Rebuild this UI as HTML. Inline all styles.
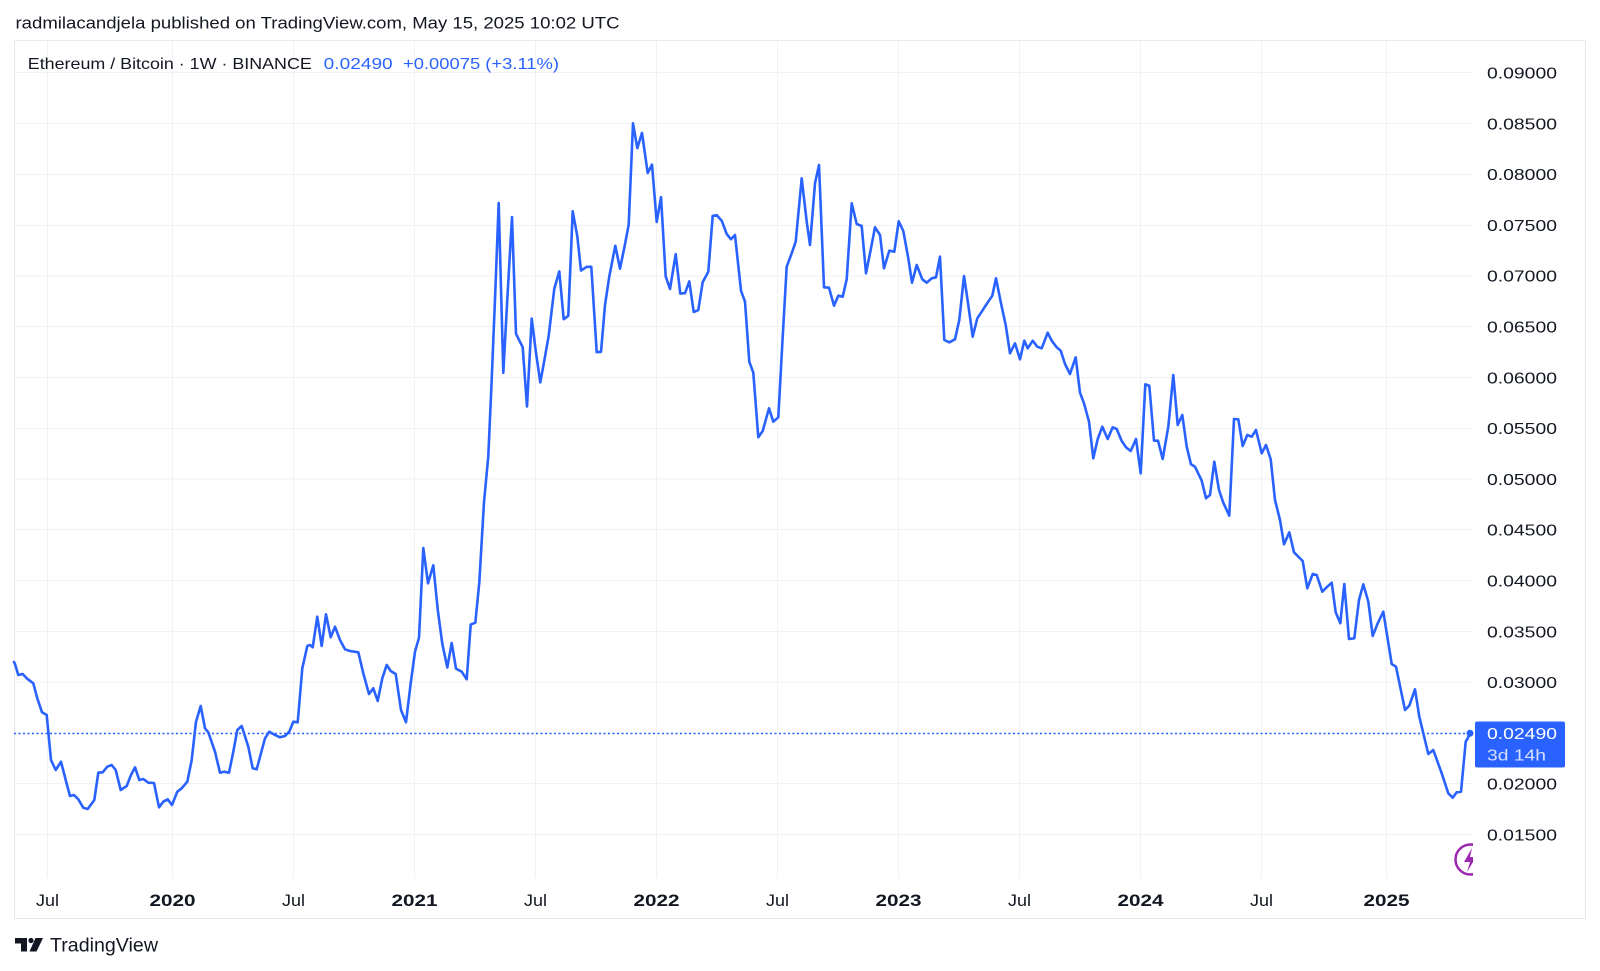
<!DOCTYPE html>
<html><head><meta charset="utf-8"><style>
html,body{margin:0;padding:0;background:#fff;}
svg{display:block;}
text{font-family:"Liberation Sans",sans-serif;}
</style></head><body>
<svg width="1600" height="971" viewBox="0 0 1600 971" xmlns="http://www.w3.org/2000/svg">
<rect width="1600" height="971" fill="#fff"/>
<defs><clipPath id="plot"><rect x="14" y="40" width="1459" height="838"/></clipPath></defs>
<text x="15.5" y="28.5" font-size="17" fill="#131722" textLength="604" lengthAdjust="spacingAndGlyphs">radmilacandjela published on TradingView.com, May 15, 2025 10:02 UTC</text>
<rect x="14.5" y="40.5" width="1571" height="878" fill="none" stroke="#e6e9ef" stroke-width="1"/>
<g stroke="#f0f2f6" stroke-width="1">
<line x1="14" x2="1473" y1="72.5" y2="72.5"/><line x1="14" x2="1473" y1="123.5" y2="123.5"/><line x1="14" x2="1473" y1="174.5" y2="174.5"/><line x1="14" x2="1473" y1="225.5" y2="225.5"/><line x1="14" x2="1473" y1="276" y2="276"/><line x1="14" x2="1473" y1="326.5" y2="326.5"/><line x1="14" x2="1473" y1="377.5" y2="377.5"/><line x1="14" x2="1473" y1="428.5" y2="428.5"/><line x1="14" x2="1473" y1="479" y2="479"/><line x1="14" x2="1473" y1="529.5" y2="529.5"/><line x1="14" x2="1473" y1="580.5" y2="580.5"/><line x1="14" x2="1473" y1="631.5" y2="631.5"/><line x1="14" x2="1473" y1="682" y2="682"/><line x1="14" x2="1473" y1="733" y2="733"/><line x1="14" x2="1473" y1="783.5" y2="783.5"/><line x1="14" x2="1473" y1="834.5" y2="834.5"/>
<line x1="47.5" x2="47.5" y1="40" y2="878"/><line x1="172.5" x2="172.5" y1="40" y2="878"/><line x1="293.5" x2="293.5" y1="40" y2="878"/><line x1="414.5" x2="414.5" y1="40" y2="878"/><line x1="535.5" x2="535.5" y1="40" y2="878"/><line x1="656.5" x2="656.5" y1="40" y2="878"/><line x1="777.5" x2="777.5" y1="40" y2="878"/><line x1="898.5" x2="898.5" y1="40" y2="878"/><line x1="1019.5" x2="1019.5" y1="40" y2="878"/><line x1="1140.5" x2="1140.5" y1="40" y2="878"/><line x1="1261.5" x2="1261.5" y1="40" y2="878"/><line x1="1386.5" x2="1386.5" y1="40" y2="878"/>
</g>
<text x="27.8" y="69" font-size="16" fill="#131722" textLength="284" lengthAdjust="spacingAndGlyphs">Ethereum / Bitcoin · 1W · BINANCE</text>
<text x="323.7" y="69" font-size="16" fill="#2962ff" textLength="69" lengthAdjust="spacingAndGlyphs">0.02490</text>
<text x="403" y="69" font-size="16" fill="#2962ff" textLength="156" lengthAdjust="spacingAndGlyphs">+0.00075 (+3.11%)</text>
<line x1="14" x2="1473" y1="733.5" y2="733.5" stroke="#2962ff" stroke-width="1.5" stroke-dasharray="2 2.5"/>
<g clip-path="url(#plot)">
<circle cx="1470.5" cy="859.5" r="15" fill="none" stroke="#9c27b0" stroke-width="2.5"/>
<path d="M1472,848 L1464,862 L1470,862 L1467,872 L1476,857 L1470,857 Z" fill="#9c27b0"/>
</g>
<path fill="none" stroke="#2962ff" stroke-width="2.6" stroke-linejoin="round" stroke-linecap="round" d="M14,662 L15,664 L18.3,675 L22.7,674 L26.7,678.3 L33.3,683.3 L37.3,698.3 L42,712.3 L46.7,715 L51,760 L55.7,770 L61,761.7 L65.7,780 L70,796 L74,795 L78.3,799.3 L83.3,807.7 L87.7,809 L94.3,800 L98.3,772.7 L102.7,772.3 L107.3,766.7 L111.7,765 L115.7,770 L120.7,790 L126.7,786 L131,775 L135,767.3 L139.3,780 L143.3,779 L148.3,782.7 L154,783 L159,807.3 L163.3,801.7 L167.7,799.3 L172,805 L177.3,791.7 L181.7,788.3 L187.3,781.7 L191.7,760 L196,721.7 L200.7,706 L205,728.3 L208.3,732.3 L215,751.7 L220,772.7 L224,771.7 L229,772.7 L233.3,751.7 L237.3,730 L241.7,726 L248.3,746.7 L252.7,768.3 L256.7,769.3 L265,738.3 L269.3,731.7 L275,735 L280,737.3 L285,736 L289.3,731.7 L293.3,721.7 L297.7,722.3 L302.3,668.3 L307.3,646 L310,645 L312.7,647.3 L317.3,616.7 L321.7,646 L326,614.3 L330.7,637.3 L335,626.7 L340,640 L345,649.3 L350,651 L358.3,652.3 L363.3,673.3 L369,694 L373.3,688.3 L377.7,701 L382.3,678.3 L386.7,665 L390.7,671 L395.7,674 L401,710 L406,722.3 L410.7,683.3 L415,651.7 L419,637.7 L423.3,548.1 L428,583.3 L433.3,565.3 L437.7,609.3 L442.3,643.8 L447.3,667.5 L451.7,643 L456,668.6 L461.7,671.7 L466.7,679.3 L470.7,624.6 L475.3,622.7 L479.3,582.5 L484,502.2 L488.3,456.2 L491.7,379.7 L495,299.3 L498.7,202.9 L503.3,372.8 L507.3,299.3 L512,217.1 L516,333.8 L522.7,347.2 L527,406.5 L531.7,318.5 L536,352.9 L540.3,382.4 L544.3,360.6 L548.7,335.7 L554.3,288.6 L559.3,271.4 L563.7,319.2 L568.3,315.8 L572.7,211.3 L577.3,236.2 L581,270.6 L586.7,266.8 L591.3,266.8 L596.7,352.2 L601,351.8 L605,305.1 L609.3,276.4 L615.3,245.8 L620,268.7 L624.3,247.7 L628.7,224.7 L633,123.3 L637.3,148.2 L642,132.9 L647.7,173.1 L652,164.6 L656.7,222 L661,197.2 L665.7,276.4 L670,289 L675.7,254.2 L680.3,293.6 L685,293.2 L689.3,281.4 L693.7,312 L698.3,310.1 L702.7,282.1 L708.3,271.8 L712.7,215.9 L716.7,215.1 L721.7,220.7 L726.7,234 L731,239.3 L735,235 L741,290.7 L745,301.7 L749.3,361.7 L753.3,372.7 L758.3,437.3 L762.7,431 L769,408.3 L773.3,421.7 L778.3,417.3 L782.7,336.7 L786.7,266.7 L791.7,253.3 L795.7,241.7 L801.7,178.3 L806.7,221.7 L810,245 L815,183.3 L819,165 L824,287.3 L829,287.7 L834,305.7 L838.3,295.7 L842.7,296.7 L846.7,279.3 L851.7,203.3 L856.7,224 L861.7,226 L866,273.3 L871,248.3 L875,227.3 L880,235 L884,268.3 L889.3,250.7 L894.3,251.7 L898.7,221.3 L903.3,231 L908.3,258.3 L912,282.7 L916.7,265 L922.3,279.3 L926.7,282.7 L931.7,278.3 L936,277.3 L940,256.7 L944.3,340 L949.3,342.3 L955,339.3 L959.3,320 L964,276 L968.3,305 L972.7,336.7 L977.3,318.3 L981.7,311.7 L986,305 L992.3,295.7 L996,278.3 L1001,303.3 L1005.7,325 L1010,353.3 L1015,343.3 L1020,359.3 L1024.3,340.7 L1027.7,348.3 L1032.7,340.7 L1037.3,346.7 L1041.7,348.3 L1047.7,332.7 L1051.7,340.7 L1056.7,347.3 L1060.7,350.7 L1065,364 L1070,374 L1075.7,357.3 L1080,392.7 L1084,403.3 L1089,421.7 L1093.3,458.3 L1097.7,439 L1102.3,426.7 L1107.7,439 L1112.7,427.3 L1116.7,429 L1121.7,441 L1126,447.3 L1130.7,451 L1136,439 L1140.7,473.3 L1145.3,384.3 L1149.3,385.7 L1154,440.7 L1158,440.7 L1162.7,459 L1168.3,426.7 L1173.3,375 L1177.7,425 L1182.3,415 L1186.7,446.7 L1191,464.3 L1195,466.7 L1201.7,480.7 L1206,498.3 L1210,495 L1214.3,461.7 L1219,490 L1223.3,502.7 L1229.3,515.7 L1234,419 L1238.3,419.3 L1242.7,446 L1247.3,435 L1251.7,436.7 L1256,430 L1261.7,453.3 L1266,445 L1270.7,459.3 L1275,500 L1280,520 L1284,544.3 L1289.3,532.3 L1294,552.3 L1302.7,561 L1307.3,588.3 L1312.7,574 L1316.7,575 L1322.3,591.7 L1327.3,586.7 L1331.7,582.7 L1335.7,612.3 L1340.3,623.3 L1344.3,584 L1349,639 L1354.3,638.3 L1359,600 L1363.3,584.3 L1368.3,601.7 L1372.7,636 L1377.7,623.3 L1383.3,611.7 L1391.7,664 L1396,666.7 L1405,710 L1409.3,705.7 L1415,689.3 L1419.3,716.7 L1428.3,754 L1433.3,750 L1441.7,773.3 L1448.3,793.3 L1452.7,797.7 L1456.7,792.3 L1461,791.7 L1465.7,741.7 L1467.7,738.3 L1470,733.3"/>
<circle cx="1470" cy="733.3" r="3.5" fill="#2962ff"/>
<g font-size="16" fill="#131722">
<text x="1487" y="78.5" textLength="70" lengthAdjust="spacingAndGlyphs">0.09000</text>
<text x="1487" y="129.3" textLength="70" lengthAdjust="spacingAndGlyphs">0.08500</text>
<text x="1487" y="180.1" textLength="70" lengthAdjust="spacingAndGlyphs">0.08000</text>
<text x="1487" y="230.9" textLength="70" lengthAdjust="spacingAndGlyphs">0.07500</text>
<text x="1487" y="281.7" textLength="70" lengthAdjust="spacingAndGlyphs">0.07000</text>
<text x="1487" y="332.5" textLength="70" lengthAdjust="spacingAndGlyphs">0.06500</text>
<text x="1487" y="383.3" textLength="70" lengthAdjust="spacingAndGlyphs">0.06000</text>
<text x="1487" y="434.1" textLength="70" lengthAdjust="spacingAndGlyphs">0.05500</text>
<text x="1487" y="484.9" textLength="70" lengthAdjust="spacingAndGlyphs">0.05000</text>
<text x="1487" y="535.7" textLength="70" lengthAdjust="spacingAndGlyphs">0.04500</text>
<text x="1487" y="586.5" textLength="70" lengthAdjust="spacingAndGlyphs">0.04000</text>
<text x="1487" y="637.3" textLength="70" lengthAdjust="spacingAndGlyphs">0.03500</text>
<text x="1487" y="688.1" textLength="70" lengthAdjust="spacingAndGlyphs">0.03000</text>
<text x="1487" y="789.7" textLength="70" lengthAdjust="spacingAndGlyphs">0.02000</text>
<text x="1487" y="840.5" textLength="70" lengthAdjust="spacingAndGlyphs">0.01500</text>
</g>
<rect x="1475" y="721.5" width="90" height="46" rx="2" fill="#2962ff"/>
<text x="1487" y="739" font-size="16" fill="#ffffff" textLength="70" lengthAdjust="spacingAndGlyphs">0.02490</text>
<text x="1487" y="760.5" font-size="16" fill="#d6e0ff" textLength="59" lengthAdjust="spacingAndGlyphs">3d 14h</text>
<g font-size="17" fill="#131722" text-anchor="middle">
<text x="47.5" y="906" textLength="23" lengthAdjust="spacingAndGlyphs">Jul</text>
<text x="172.5" y="906" font-weight="bold" textLength="46" lengthAdjust="spacingAndGlyphs">2020</text>
<text x="293.5" y="906" textLength="23" lengthAdjust="spacingAndGlyphs">Jul</text>
<text x="414.5" y="906" font-weight="bold" textLength="46" lengthAdjust="spacingAndGlyphs">2021</text>
<text x="535.5" y="906" textLength="23" lengthAdjust="spacingAndGlyphs">Jul</text>
<text x="656.5" y="906" font-weight="bold" textLength="46" lengthAdjust="spacingAndGlyphs">2022</text>
<text x="777.5" y="906" textLength="23" lengthAdjust="spacingAndGlyphs">Jul</text>
<text x="898.5" y="906" font-weight="bold" textLength="46" lengthAdjust="spacingAndGlyphs">2023</text>
<text x="1019.5" y="906" textLength="23" lengthAdjust="spacingAndGlyphs">Jul</text>
<text x="1140.5" y="906" font-weight="bold" textLength="46" lengthAdjust="spacingAndGlyphs">2024</text>
<text x="1261.5" y="906" textLength="23" lengthAdjust="spacingAndGlyphs">Jul</text>
<text x="1386.5" y="906" font-weight="bold" textLength="46" lengthAdjust="spacingAndGlyphs">2025</text>
</g>
<path d="M15,938 H27 V951.5 H21 V943.5 H15 Z" fill="#131722"/>
<circle cx="31" cy="940.5" r="2.6" fill="#131722"/>
<polygon points="35.5,938 43,938 36.5,951.5 29.5,951.5" fill="#131722"/>
<text x="50" y="951.5" font-size="19" fill="#131722" textLength="108" lengthAdjust="spacingAndGlyphs">TradingView</text>
</svg>
</body></html>
